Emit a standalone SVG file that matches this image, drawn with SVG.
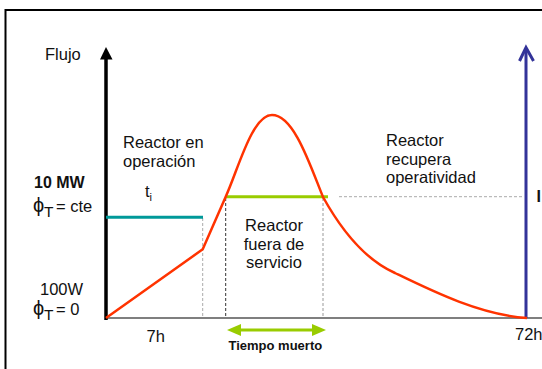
<svg xmlns="http://www.w3.org/2000/svg" width="542" height="369" viewBox="0 0 542 369">
<defs>
<style>
.t{font-family:"Liberation Sans",Arial,sans-serif;font-size:16.5px;fill:#111}
.b{font-weight:bold}
.phi{font-size:20px}
.sub{font-size:15.5px}
.dash{stroke-width:1;fill:none;stroke-dasharray:3,2}
</style>
<marker id="ga" viewBox="0 0 14 12" refX="1" refY="6" markerWidth="14" markerHeight="12" markerUnits="userSpaceOnUse" orient="auto-start-reverse">
<path d="M0,0 L14,6 L0,12 Z" fill="#99CC00"/>
</marker>
</defs>
<rect x="0" y="0" width="542" height="369" fill="#fff"/>
<rect x="5.5" y="10" width="600" height="400" fill="none" stroke="#000" stroke-width="2"/>
<g id="guides">
<line class="dash" x1="202.7" y1="218" x2="202.7" y2="318" stroke="#aaa"/>
<line class="dash" x1="225.7" y1="198" x2="225.7" y2="318" stroke="#333"/>
<line class="dash" x1="323" y1="198" x2="323" y2="318" stroke="#999"/>
<line class="dash" x1="339" y1="196.7" x2="524" y2="196.7" stroke="#aaa" stroke-width="0.8"/>
</g>
<g id="axes">
<line x1="106" y1="318" x2="542" y2="318" stroke="#555" stroke-width="1.5"/>
<line x1="106" y1="320" x2="106" y2="58" stroke="#000" stroke-width="3.5"/>
<path d="M100,59.5 L106,47 L112.5,59.5 Z" fill="#000"/>
<line x1="526" y1="318" x2="526" y2="49" stroke="#333399" stroke-width="3"/>
<polyline points="519.5,61 526,47.5 533.5,61" fill="none" stroke="#333399" stroke-width="3"/>
</g>
<g id="levels">
<line x1="106" y1="217.3" x2="203" y2="217.3" stroke="#009999" stroke-width="3"/>
<line x1="225" y1="196.7" x2="328" y2="196.7" stroke="#99CC00" stroke-width="3"/>
</g>
<g id="curve">
<path d="M106,318 L202.7,249.3 L225.7,196.7 C238,170 252,115 272,115 C294,115 310,165 323,197 C343,233 368,261 395,273 C430,290 480,315 527,318" fill="none" stroke="#FF3300" stroke-width="2.5" stroke-linejoin="round"/>
</g>
<g id="connectors">
<line x1="240" y1="330" x2="313" y2="330" stroke="#99CC00" stroke-width="3" marker-start="url(#ga)" marker-end="url(#ga)"/>
</g>
<g id="labels">
<text class="t" x="45" y="60">Flujo</text>
<text class="t" x="123" y="148">Reactor en</text>
<text class="t" x="123" y="166.5">operación</text>
<text class="t b" x="34" y="187.5" style="font-size:16px">10 MW</text>
<text class="t" x="33" y="212"><tspan class="phi">ϕ</tspan><tspan class="sub" x="44" dy="5">T</tspan><tspan x="56" dy="-5">= cte</tspan></text>
<text class="t" x="145" y="196.5">t<tspan style="font-size:11px" dy="4">i</tspan></text>
<text class="t" x="274" y="231" text-anchor="middle">Reactor</text>
<text class="t" x="274" y="249.5" text-anchor="middle">fuera de</text>
<text class="t" x="274" y="268" text-anchor="middle">servicio</text>
<text class="t" x="386" y="146">Reactor</text>
<text class="t" x="386" y="164.5">recupera</text>
<text class="t" x="386" y="183">operatividad</text>
<text class="t b" x="536.5" y="202" style="font-size:16px">I</text>
<text class="t" x="40" y="295">100W</text>
<text class="t" x="33" y="315"><tspan class="phi">ϕ</tspan><tspan class="sub" x="44" dy="5">T</tspan><tspan x="56" dy="-5">= 0</tspan></text>
<text class="t" x="146.5" y="342">7h</text>
<text class="t" x="515" y="340">72h</text>
<text class="t b" x="228.5" y="350" style="font-size:13px">Tiempo muerto</text>
</g>
</svg>
